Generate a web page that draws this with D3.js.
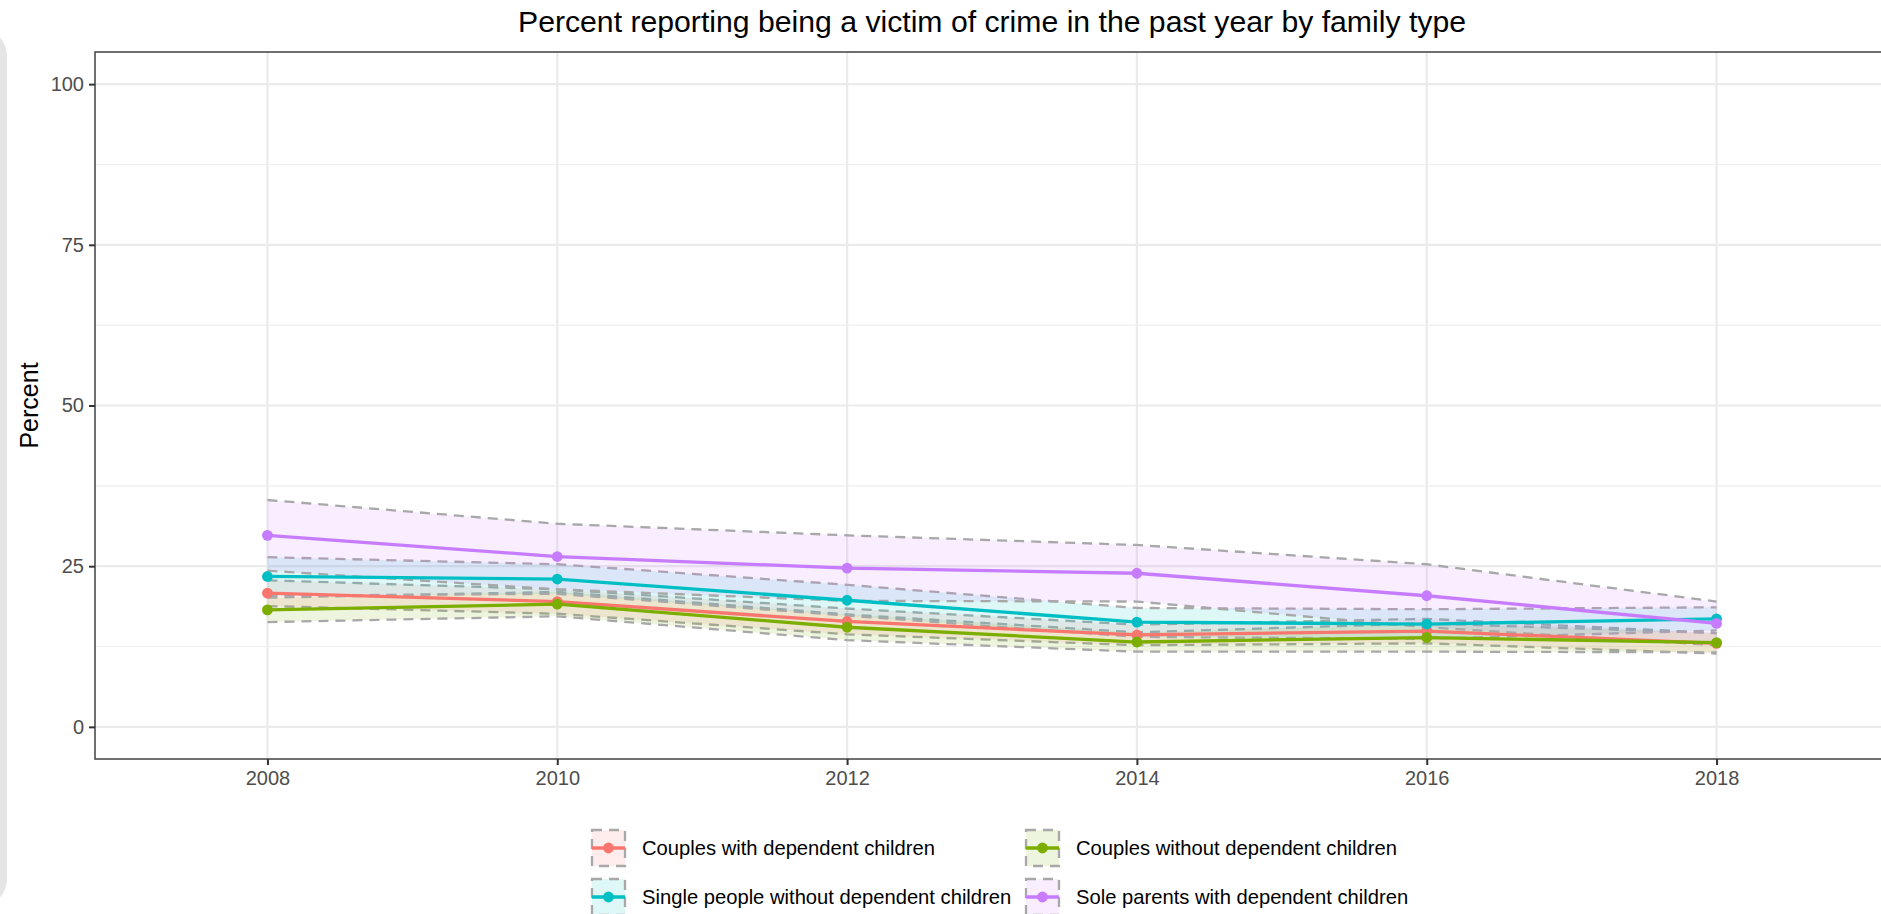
<!DOCTYPE html>
<html>
<head>
<meta charset="utf-8">
<script src="https://cdn.jsdelivr.net/npm/d3@7"></script>
<style>
  html, body { margin: 0; padding: 0; background: #ffffff; }
  svg { display: block; font-family: "Liberation Sans", Arial, Helvetica, sans-serif; }
</style>
</head>
<body>
<svg id="chart" width="1881" height="914"></svg>
<script>
// Survey years
const years = [2008, 2010, 2012, 2014, 2016, 2018];

// Family types (legend order)
const familyTypes = [
  "Couples with dependent children",
  "Couples without dependent children",
  "Single people without dependent children",
  "Sole parents with dependent children"
];
const familyColors = ["#F8766D", "#7CAE00", "#00BFC4", "#C77CFF"];

// Percent victimised, with 95% confidence bounds
const couplesWith      = [20.8, 19.5, 16.4, 14.3, 14.9, 13.0];
const couplesWithLow   = [18.8, 17.6, 14.4, 12.7, 13.0, 11.4];
const couplesWithHigh  = [22.8, 21.4, 18.4, 15.9, 16.8, 14.6];

const couplesWithout     = [18.2, 19.1, 15.5, 13.2, 13.9, 13.1];
const couplesWithoutLow  = [16.3, 17.2, 13.5, 11.7, 11.7, 11.6];
const couplesWithoutHigh = [20.1, 21.0, 17.5, 14.7, 16.1, 14.6];

const singles     = [23.4, 23.0, 19.7, 16.3, 16.0, 16.8];
const singlesLow  = [20.4, 20.7, 17.3, 14.0, 13.7, 15.0];
const singlesHigh = [26.4, 25.3, 22.1, 18.5, 18.3, 18.6];

const soleParents     = [29.8, 26.5, 24.7, 23.9, 20.4, 16.1];
const soleParentsLow  = [24.3, 21.4, 19.6, 19.5, 15.5, 12.7];
const soleParentsHigh = [35.3, 31.6, 29.8, 28.3, 25.3, 19.5];

const yTicks = [0, 25, 50, 75, 100];
const yMinor = [12.5, 37.5, 62.5, 87.5];

const titleText = "Percent reporting being a victim of crime in the past year by family type";
const yTitle = "Percent";

// Assemble per-series records
const series = [
  { name: familyTypes[0], color: familyColors[0], est: couplesWith,    lo: couplesWithLow,    hi: couplesWithHigh },
  { name: familyTypes[1], color: familyColors[1], est: couplesWithout, lo: couplesWithoutLow, hi: couplesWithoutHigh },
  { name: familyTypes[2], color: familyColors[2], est: singles,        lo: singlesLow,        hi: singlesHigh },
  { name: familyTypes[3], color: familyColors[3], est: soleParents,    lo: soleParentsLow,    hi: soleParentsHigh }
].map(s => ({
  ...s,
  points: years.map((yr, i) => ({ year: yr, value: s.est[i], lo: s.lo[i], hi: s.hi[i] }))
}));

// Panel geometry
const panel = { left: 95, right: 1889, top: 52, bottom: 759 };

const x = d3.scaleLinear()
  .domain([2006.81, 2019.19])
  .range([panel.left, panel.right]);

const y = d3.scaleLinear()
  .domain([-5, 105])
  .range([panel.bottom, panel.top]);

const svg = d3.select("#chart");

// Side strip at the far left of the page
svg.append("rect")
  .attr("x", -40).attr("y", 30)
  .attr("width", 47).attr("height", 875)
  .attr("rx", 26).attr("ry", 26)
  .attr("fill", "#e5e5e5");

// Clip region for the panel
svg.append("defs").append("clipPath").attr("id", "panel-clip")
  .append("rect")
  .attr("x", panel.left).attr("y", panel.top)
  .attr("width", panel.right - panel.left)
  .attr("height", panel.bottom - panel.top);

const grid = svg.append("g").attr("clip-path", "url(#panel-clip)");

// Minor horizontal gridlines
grid.selectAll("line.minor-y").data(yMinor).join("line")
  .attr("class", "minor-y")
  .attr("x1", panel.left).attr("x2", panel.right)
  .attr("y1", d => y(d)).attr("y2", d => y(d))
  .attr("stroke", "#efefef").attr("stroke-width", 1.2);

// Major gridlines
grid.selectAll("line.major-y").data(yTicks).join("line")
  .attr("class", "major-y")
  .attr("x1", panel.left).attr("x2", panel.right)
  .attr("y1", d => y(d)).attr("y2", d => y(d))
  .attr("stroke", "#ebebeb").attr("stroke-width", 2.2);

grid.selectAll("line.major-x").data(years).join("line")
  .attr("class", "major-x")
  .attr("y1", panel.top).attr("y2", panel.bottom)
  .attr("x1", d => x(d)).attr("x2", d => x(d))
  .attr("stroke", "#ebebeb").attr("stroke-width", 2.2);

const plot = svg.append("g").attr("clip-path", "url(#panel-clip)");

// Confidence ribbons
const area = d3.area()
  .x(d => x(d.year))
  .y0(d => y(d.lo))
  .y1(d => y(d.hi));

const ribbonLine = key => d3.line().x(d => x(d.year)).y(d => y(d[key]));

series.forEach(s => {
  plot.append("path")
    .datum(s.points)
    .attr("d", area)
    .attr("fill", s.color)
    .attr("fill-opacity", 0.13)
    .attr("stroke", "none");
  ["hi", "lo"].forEach(k => {
    plot.append("path")
      .datum(s.points)
      .attr("d", ribbonLine(k))
      .attr("fill", "none")
      .attr("stroke", "#a8a8a8")
      .attr("stroke-width", 2.3)
      .attr("stroke-dasharray", "10,7");
  });
});

// Estimate lines
const line = d3.line().x(d => x(d.year)).y(d => y(d.value));
series.forEach(s => {
  plot.append("path")
    .datum(s.points)
    .attr("d", line)
    .attr("fill", "none")
    .attr("stroke", s.color)
    .attr("stroke-width", 3.3)
    .attr("stroke-linejoin", "round");
});

// Points
series.forEach(s => {
  plot.selectAll(null).data(s.points).join("circle")
    .attr("cx", d => x(d.year))
    .attr("cy", d => y(d.value))
    .attr("r", 5.4)
    .attr("fill", s.color);
});

// Panel border
svg.append("rect")
  .attr("x", panel.left).attr("y", panel.top)
  .attr("width", panel.right - panel.left)
  .attr("height", panel.bottom - panel.top)
  .attr("fill", "none")
  .attr("stroke", "#4d4d4d")
  .attr("stroke-width", 1.6);

// Axes
const yAxis = d3.axisLeft(y).tickValues(yTicks).tickSize(6).tickPadding(5).tickFormat(d3.format("d"));
const xAxis = d3.axisBottom(x).tickValues(years).tickSize(6).tickPadding(6).tickFormat(d3.format("d"));

const gy = svg.append("g").attr("transform", `translate(${panel.left},0)`).call(yAxis);
const gx = svg.append("g").attr("transform", `translate(0,${panel.bottom})`).call(xAxis);

[gx, gy].forEach(g => {
  g.select(".domain").remove();
  g.selectAll(".tick line").attr("stroke", "#333333").attr("stroke-width", 2);
  g.selectAll(".tick text")
    .attr("fill", "#4d4d4d")
    .style("font-size", "20px")
    .style("font-family", "'Liberation Sans', Arial, sans-serif");
});

// Title
svg.append("text")
  .attr("x", (panel.left + panel.right) / 2)
  .attr("y", 32)
  .attr("text-anchor", "middle")
  .attr("fill", "#000")
  .style("font-size", "30.2px")
  .text(titleText);

// Y-axis title
svg.append("text")
  .attr("transform", `translate(38,${(panel.top + panel.bottom) / 2}) rotate(-90)`)
  .attr("text-anchor", "middle")
  .attr("fill", "#000")
  .style("font-size", "25px")
  .text(yTitle);

// Legend: two columns, two rows
const legendCols = [591, 1025];
const legendRows = [848, 897];
const keyW = 35, keyH = 38;

const legend = svg.append("g");
series.forEach((s, i) => {
  const col = i % 2, row = Math.floor(i / 2);
  const kx = legendCols[col], cy = legendRows[row];
  const g = legend.append("g");
  g.append("rect")
    .attr("x", kx + 1).attr("y", cy - keyH / 2 + 1)
    .attr("width", keyW - 2).attr("height", keyH - 2)
    .attr("fill", s.color).attr("fill-opacity", 0.13)
    .attr("stroke", "#a8a8a8").attr("stroke-width", 2.3)
    .attr("stroke-dasharray", "10,7");
  g.append("line")
    .attr("x1", kx + 1).attr("x2", kx + keyW - 1)
    .attr("y1", cy).attr("y2", cy)
    .attr("stroke", s.color).attr("stroke-width", 3.3);
  g.append("circle")
    .attr("cx", kx + keyW / 2).attr("cy", cy).attr("r", 5.4)
    .attr("fill", s.color);
  g.append("text")
    .attr("x", kx + keyW + 16).attr("y", cy)
    .attr("dy", "0.35em")
    .attr("fill", "#000")
    .style("font-size", "20.2px")
    .text(s.name);
});
</script>
</body>
</html>
